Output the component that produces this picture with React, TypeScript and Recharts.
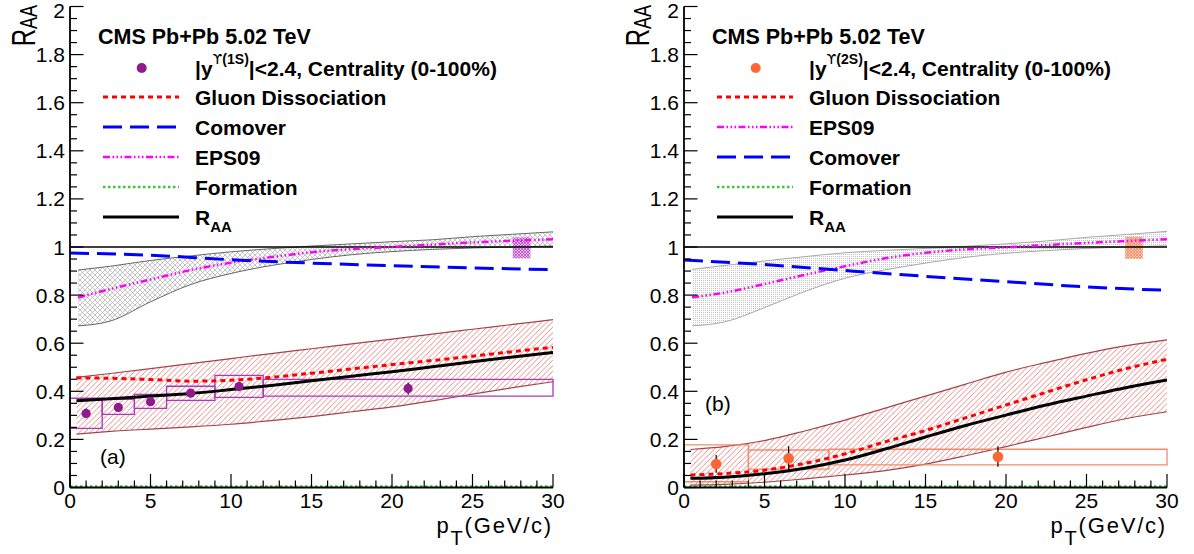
import React from 'react';
import {
  ComposedChart,
  Line,
  Area,
  Scatter,
  ErrorBar,
  XAxis,
  YAxis,
  ReferenceArea,
  ReferenceLine,
  Legend,
} from 'recharts';

const FONT = '"Liberation Sans", Arial, Helvetica, sans-serif';

// axis ticks (ROOT style: minor + major)
const xTicks = [0, 1, 2, 3, 4, 5, 6, 7, 8, 9, 10, 11, 12, 13, 14, 15, 16, 17, 18, 19, 20, 21, 22, 23, 24, 25, 26, 27, 28, 29, 30];
const yTicks = [
  0, 0.05, 0.1, 0.15, 0.2, 0.25, 0.3, 0.35, 0.4, 0.45, 0.5, 0.55, 0.6, 0.65, 0.7, 0.75, 0.8, 0.85, 0.9, 0.95, 1,
  1.05, 1.1, 1.15, 1.2, 1.25, 1.3, 1.35, 1.4, 1.45, 1.5, 1.55, 1.6, 1.65, 1.7, 1.75, 1.8, 1.85, 1.9, 1.95, 2,
];

// common pT grids for the model curves
const ptGrid = [0.5, 2.5, 5, 7.5, 10, 12.5, 15, 17.5, 20, 22.5, 25, 27.5, 30];
const ptGridModel = [0.4, 2.5, 5, 7.5, 10, 12.5, 15, 17.5, 20, 22.5, 25, 27.5, 30];
const ptComover = [0, 5, 10, 15, 20, 25, 30];
const ptFormation = [0, 30];

// ---- Upsilon(1S) panel ----
const eps09Low1S = [0.672, 0.692, 0.772, 0.844, 0.89, 0.923, 0.948, 0.968, 0.981, 0.99, 0.996, 1.0, 1.004];
const eps09High1S = [0.904, 0.92, 0.944, 0.963, 0.98, 0.993, 1.004, 1.013, 1.022, 1.03, 1.043, 1.053, 1.063];
const eps09Mid1S = [0.79, 0.825, 0.865, 0.904, 0.935, 0.958, 0.978, 0.991, 1.0, 1.01, 1.019, 1.026, 1.032];
const comover1S = [0.975, 0.966, 0.947, 0.933, 0.922, 0.913, 0.906];
const bandLow1S = [0.222, 0.233, 0.243, 0.252, 0.263, 0.278, 0.295, 0.315, 0.335, 0.36, 0.388, 0.415, 0.44];
const bandHigh1S = [0.458, 0.474, 0.494, 0.515, 0.536, 0.557, 0.577, 0.597, 0.617, 0.638, 0.658, 0.678, 0.698];
const gluon1S = [0.456, 0.454, 0.449, 0.442, 0.446, 0.458, 0.475, 0.493, 0.511, 0.528, 0.546, 0.565, 0.583];
const raa1S = [0.361, 0.369, 0.38, 0.391, 0.407, 0.424, 0.444, 0.463, 0.481, 0.502, 0.523, 0.543, 0.561];
const formation1S = [0.004, 0.004];
const pt1S = [1, 3, 5, 7.5, 10.5, 21];
const val1S = [0.308, 0.333, 0.357, 0.392, 0.42, 0.412];
const err1S = [0.02, 0.018, 0.016, 0.016, 0.02, 0.025];
const boxLo1S = [0, 2, 4, 6, 9, 12];
const boxHi1S = [2, 4, 6, 9, 12, 30];
const sysLo1S = [0.246, 0.304, 0.329, 0.3625, 0.375, 0.38];
const sysHi1S = [0.371, 0.367, 0.3875, 0.421, 0.466, 0.45];
const global1S = { x: [27.5, 28.6], y: [0.953, 1.04] };

// ---- Upsilon(2S) panel ----
const eps09Low2S = [0.672, 0.688, 0.748, 0.815, 0.87, 0.905, 0.933, 0.957, 0.974, 0.985, 0.994, 1.0, 1.005];
const eps09High2S = [0.907, 0.923, 0.942, 0.96, 0.976, 0.986, 0.994, 1.003, 1.013, 1.025, 1.04, 1.052, 1.065];
const eps09Mid2S = [0.791, 0.81, 0.846, 0.884, 0.92, 0.953, 0.976, 0.99, 0.999, 1.008, 1.017, 1.025, 1.032];
const comover2S = [0.946, 0.927, 0.902, 0.878, 0.856, 0.834, 0.82];
const bandLow2S = [0.01, 0.013, 0.022, 0.036, 0.052, 0.07, 0.097, 0.132, 0.17, 0.21, 0.25, 0.287, 0.315];
const bandHigh2S = [0.158, 0.17, 0.195, 0.235, 0.28, 0.33, 0.38, 0.43, 0.48, 0.52, 0.558, 0.59, 0.614];
const gluon2S = [0.052, 0.058, 0.072, 0.1, 0.14, 0.19, 0.237, 0.29, 0.343, 0.396, 0.448, 0.495, 0.533];
const raa2S = [0.038, 0.043, 0.057, 0.08, 0.114, 0.16, 0.21, 0.258, 0.301, 0.343, 0.38, 0.416, 0.447];
const formation2S = [0.004, 0.004];
const pt2S = [2, 6.5, 19.5];
const val2S = [0.098, 0.121, 0.128];
const err2S = [0.037, 0.05, 0.042];
const boxLo2S = [0, 4, 9];
const boxHi2S = [4, 9, 30];
const sysLo2S = [0.024, 0.076, 0.094];
const sysHi2S = [0.177, 0.156, 0.159];
const global2S = { x: [27.4, 28.5], y: [0.951, 1.042] };

const legendOrder1S = ['gluon', 'comover', 'eps09', 'formation', 'raa'];
const legendOrder2S = ['gluon', 'eps09', 'comover', 'formation', 'raa'];
const legendNames: Record<string, string> = {
  gluon: 'Gluon Dissociation',
  comover: 'Comover',
  eps09: 'EPS09',
  formation: 'Formation',
  raa: 'R',
};

const styles: Record<string, { stroke: string; dash?: string; width: number }> = {
  gluon: { stroke: '#ff0000', dash: '5 4', width: 3 },
  comover: { stroke: '#0000ff', dash: '19 8', width: 3 },
  eps09: { stroke: '#ff00ff', dash: '7 2.5 1.5 2.5 1.5 2.5 1.5 2.5', width: 2.5 },
  formation: { stroke: '#33cc33', dash: '2.5 2.5', width: 2.5 },
  raa: { stroke: '#000000', width: 3 },
};

const toPts = (xs: number[], ys: number[]) => xs.map((x, i) => ({ x, y: ys[i] }));
const toBand = (xs: number[], lo: number[], hi: number[]) => xs.map((x, i) => ({ x, range: [lo[i], hi[i]] }));

const MAJOR = 13.5;
const MINOR = 7;
const isMajorX = (v: number) => v % 5 === 0;
const isMajorY = (v: number) => Math.abs(v * 5 - Math.round(v * 5)) < 1e-6;
const fmtY = (v: number) => (Number.isInteger(v) ? String(v) : v.toFixed(1));

function BottomTick({ x, y, payload }: any) {
  const major = isMajorX(payload.value);
  return (
    <g>
      <line x1={x} x2={x} y1={y} y2={y - (major ? MAJOR : MINOR)} stroke="#000" strokeWidth={1.2} />
      {major && (
        <text x={x} y={y + 20.5} textAnchor="middle" fontSize={21} fontFamily={FONT} fill="#000">
          {payload.value}
        </text>
      )}
    </g>
  );
}

function TopTick({ x, y, payload }: any) {
  const major = isMajorX(payload.value);
  return <line x1={x} x2={x} y1={y} y2={y + (major ? MAJOR + 0.5 : MINOR)} stroke="#000" strokeWidth={1.2} />;
}

function LeftTick({ x, y, payload }: any) {
  const major = isMajorY(payload.value);
  return (
    <g>
      <line x1={x} x2={x + (major ? MAJOR : MINOR)} y1={y} y2={y} stroke="#000" strokeWidth={1.2} />
      {major && (
        <text x={x - 5} y={Math.max(y + 7.5, 18)} textAnchor="end" fontSize={21} fontFamily={FONT} fill="#000">
          {fmtY(payload.value)}
        </text>
      )}
    </g>
  );
}

function RightTick({ x, y, payload }: any) {
  const major = isMajorY(payload.value);
  return <line x1={x} x2={x - (major ? MAJOR : MINOR)} y1={y} y2={y} stroke="#000" strokeWidth={1.2} />;
}

function YTitle({ pl }: { pl: number }) {
  return (
    <text
      transform={`translate(${pl - 35},5) rotate(-90) scale(1,1.35)`}
      textAnchor="end"
      fontSize={24}
      fontFamily={FONT}
      fill="#000"
    >
      R<tspan fontSize={18} dy={1.5}>AA</tspan>
    </text>
  );
}

function XTitle({ pr }: { pr: number }) {
  return (
    <text x={pr} y={533} textAnchor="end" fontSize={22} letterSpacing={1.8} fontFamily={FONT} fill="#000">
      p<tspan fontSize={20} dy={12}>T</tspan>
      <tspan dy={-12}>(GeV/c)</tspan>
    </text>
  );
}

const rowY = [68, 97, 127, 157, 187, 217];

function LegendLine({ x1, x2, y, k }: { x1: number; x2: number; y: number; k: string }) {
  const s = styles[k];
  return <line x1={x1} x2={x2} y1={y} y2={y} stroke={s.stroke} strokeWidth={s.width} strokeDasharray={s.dash} />;
}

function PanelLegend({ p }: { p: PanelDef }) {
  const pl = p.pl;
  const tx = pl + 125;
  return (
    <svg width={597} height={554} style={{ position: 'absolute', left: 0, top: 0, overflow: 'visible' }}>
      <g fontFamily={FONT} fill="#000">
        <text x={pl + 28} y={44.3} fontSize={21.5} fontWeight="bold">
          CMS Pb+Pb 5.02 TeV
        </text>
        <circle cx={pl + 71.7} cy={rowY[0]} r={5} fill={p.color} />
        <text x={tx} y={rowY[0] + 7.5} fontSize={21} fontWeight="bold">
          |y
          <tspan fontSize={14} dy={-12} fontWeight="normal" fontFamily="DejaVu Sans">
            ϒ
          </tspan>
          <tspan fontSize={14}>{p.state}</tspan>
          <tspan fontSize={21} dy={12}>
            |&lt;2.4, Centrality (0-100%)
          </tspan>
        </text>
        {p.order.map((k, i) => (
          <g key={k}>
            <LegendLine x1={pl + 33} x2={pl + 109} y={rowY[i + 1]} k={k} />
            <text x={tx} y={rowY[i + 1] + 7.5} fontSize={21} fontWeight="bold">
              {legendNames[k]}
              {k === 'raa' && (
                <tspan fontSize={15} dy={7}>
                  AA
                </tspan>
              )}
            </text>
          </g>
        ))}
        <text x={p.tagX} y={p.tagY} fontSize={21}>
          {p.tag}
        </text>
      </g>
    </svg>
  );
}

interface PanelDef {
  left: number;
  pl: number;
  pr: number;
  color: string;
  radius: number;
  sysColor: string;
  state: string;
  tag: string;
  tagX: number;
  tagY: number;
  order: string[];
  grayFill: string;
  grayStroke: string;
  globalFill: string;
  eps09Band: { x: number; range: number[] }[];
  eps09: { x: number; y: number }[];
  comover: { x: number; y: number }[];
  band: { x: number; range: number[] }[];
  gluon: { x: number; y: number }[];
  raa: { x: number; y: number }[];
  formation: { x: number; y: number }[];
  points: { x: number; y: number; err: number }[];
  boxes: { x1: number; x2: number; y1: number; y2: number }[];
  global: { x: number[]; y: number[] };
}

const panels: PanelDef[] = [
  {
    left: 0,
    pl: 70,
    pr: 553,
    color: '#8e1a8e',
    radius: 4.6,
    sysColor: '#a93ab9',
    state: '(1S)',
    tag: '(a)',
    tagX: 100,
    tagY: 464,
    order: legendOrder1S,
    grayFill: 'url(#crossGray)',
    grayStroke: '#666666',
    globalFill: 'url(#crossPurple)',
    eps09Band: toBand(ptGrid, eps09Low1S, eps09High1S),
    eps09: toPts(ptGrid, eps09Mid1S),
    comover: toPts(ptComover, comover1S),
    band: toBand(ptGridModel, bandLow1S, bandHigh1S),
    gluon: toPts(ptGridModel, gluon1S),
    raa: toPts(ptGridModel, raa1S),
    formation: toPts(ptFormation, formation1S),
    points: pt1S.map((x, i) => ({ x, y: val1S[i], err: err1S[i] })),
    boxes: boxLo1S.map((x1, i) => ({ x1, x2: boxHi1S[i], y1: sysLo1S[i], y2: sysHi1S[i] })),
    global: global1S,
  },
  {
    left: 597,
    pl: 87,
    pr: 570,
    color: '#ff6633',
    radius: 5.3,
    sysColor: '#f7896a',
    state: '(2S)',
    tag: '(b)',
    tagX: 108,
    tagY: 411,
    order: legendOrder2S,
    grayFill: 'url(#dotGray)',
    grayStroke: '#a8a8a8',
    globalFill: 'url(#crossOrange)',
    eps09Band: toBand(ptGrid, eps09Low2S, eps09High2S),
    eps09: toPts(ptGrid, eps09Mid2S),
    comover: toPts(ptComover, comover2S),
    band: toBand(ptGridModel, bandLow2S, bandHigh2S),
    gluon: toPts(ptGridModel, gluon2S),
    raa: toPts(ptGridModel, raa2S),
    formation: toPts(ptFormation, formation2S),
    points: pt2S.map((x, i) => ({ x, y: val2S[i], err: err2S[i] })),
    boxes: boxLo2S.map((x1, i) => ({ x1, x2: boxHi2S[i], y1: sysLo2S[i], y2: sysHi2S[i] })),
    global: global2S,
  },
];

const frame = { stroke: '#000', strokeWidth: 1.8 };

function Panel({ p }: { p: PanelDef }) {
  const W = 597;
  const H = 554;
  const s = styles;
  return (
    <div style={{ position: 'absolute', left: p.left, top: 0, width: W, height: H }}>
      <ComposedChart width={W} height={H} margin={{ top: 6.5, right: W - p.pr, bottom: 0, left: 0 }}>
        <XAxis
          dataKey="x"
          type="number"
          domain={[0, 30]}
          allowDataOverflow
          ticks={xTicks}
          interval={0}
          tickSize={0}
          tickMargin={0}
          tickLine={false}
          tick={(t: any) => <BottomTick {...t} />}
          axisLine={frame}
          height={66.5}
          label={<XTitle pr={p.pr} />}
        />
        <XAxis
          xAxisId="top"
          orientation="top"
          type="number"
          domain={[0, 30]}
          allowDataOverflow
          ticks={xTicks}
          interval={0}
          tickSize={0}
          tickMargin={0}
          tickLine={false}
          tick={(t: any) => <TopTick {...t} />}
          axisLine={frame}
          height={0}
        />
        <YAxis
          type="number"
          domain={[0, 2]}
          allowDataOverflow
          ticks={yTicks}
          interval={0}
          tickSize={0}
          tickMargin={0}
          tickLine={false}
          tick={(t: any) => <LeftTick {...t} />}
          axisLine={frame}
          width={p.pl}
          label={<YTitle pl={p.pl} />}
        />
        <YAxis
          yAxisId="right"
          orientation="right"
          type="number"
          domain={[0, 2]}
          allowDataOverflow
          ticks={yTicks}
          interval={0}
          tickSize={0}
          tickMargin={0}
          tickLine={false}
          tick={(t: any) => <RightTick {...t} />}
          axisLine={frame}
          width={0}
        />

        <Area
          data={p.eps09Band}
          dataKey="range"
          type="monotone"
          fill={p.grayFill}
          fillOpacity={1}
          stroke={p.grayStroke}
          strokeWidth={1}
          isAnimationActive={false}
        />
        <Area
          data={p.band}
          dataKey="range"
          type="monotone"
          fill="url(#hatchRed)"
          fillOpacity={1}
          stroke="#a0464a"
          strokeWidth={1.2}
          isAnimationActive={false}
        />
        <ReferenceLine y={1} stroke="#000" strokeWidth={1.6} />
        {p.boxes.map((b, i) => (
          <ReferenceArea
            key={i}
            x1={b.x1}
            x2={b.x2}
            y1={b.y1}
            y2={b.y2}
            fill="none"
            fillOpacity={0}
            stroke={p.sysColor}
            strokeWidth={1.3}
          />
        ))}
        <ReferenceArea
          x1={p.global.x[0]}
          x2={p.global.x[1]}
          y1={p.global.y[0]}
          y2={p.global.y[1]}
          fill={p.globalFill}
          fillOpacity={1}
          stroke="none"
        />
        <Line
          data={p.eps09}
          dataKey="y"
          type="monotone"
          stroke={s.eps09.stroke}
          strokeWidth={s.eps09.width}
          strokeDasharray={s.eps09.dash}
          dot={false}
          isAnimationActive={false}
        />
        <Line
          data={p.comover}
          dataKey="y"
          type="monotone"
          stroke={s.comover.stroke}
          strokeWidth={s.comover.width}
          strokeDasharray={s.comover.dash}
          dot={false}
          isAnimationActive={false}
        />
        <Line
          data={p.gluon}
          dataKey="y"
          type="monotone"
          stroke={s.gluon.stroke}
          strokeWidth={s.gluon.width}
          strokeDasharray={s.gluon.dash}
          dot={false}
          isAnimationActive={false}
        />
        <Line
          data={p.raa}
          dataKey="y"
          type="monotone"
          stroke={s.raa.stroke}
          strokeWidth={s.raa.width}
          dot={false}
          isAnimationActive={false}
        />
        <Line
          data={p.formation}
          dataKey="y"
          type="linear"
          stroke={s.formation.stroke}
          strokeWidth={s.formation.width}
          strokeDasharray={s.formation.dash}
          dot={false}
          isAnimationActive={false}
        />
        <Scatter
          data={p.points}
          dataKey="y"
          fill={p.color}
          isAnimationActive={false}
          shape={(sp: any) => <circle cx={sp.cx} cy={sp.cy} r={p.radius} fill={p.color} />}
        >
          <ErrorBar dataKey="err" direction="y" width={0} stroke="#000" strokeWidth={1.2} />
        </Scatter>
        <Legend
          layout="horizontal"
          align="center"
          verticalAlign="middle"
          wrapperStyle={{ left: 0, top: 0, width: W, height: H, pointerEvents: 'none' }}
          content={() => <PanelLegend p={p} />}
        />
      </ComposedChart>
    </div>
  );
}

export default function App() {
  return (
    <div
      style={{
        position: 'absolute',
        left: 0,
        top: 0,
        width: 1194,
        height: 554,
        background: '#fff',
        overflow: 'hidden',
      }}
    >
      <svg width={0} height={0} style={{ position: 'absolute' }}>
        <defs>
          <pattern id="hatchRed" patternUnits="userSpaceOnUse" width={5.5} height={5.5}>
            <path d="M-1,1 l2,-2 M0,5.5 l5.5,-5.5 M4.5,6.5 l2,-2" stroke="#e25555" strokeWidth={0.7} />
          </pattern>
          <pattern id="crossGray" patternUnits="userSpaceOnUse" width={5} height={5}>
            <path d="M-1,1 l2,-2 M0,5 l5,-5 M4,6 l2,-2 M-1,4 l2,2 M0,0 l5,5 M4,-1 l2,2" stroke="#a0a0a0" strokeWidth={0.6} />
          </pattern>
          <pattern id="dotGray" patternUnits="userSpaceOnUse" width={2} height={2}>
            <rect x={0} y={0} width={1} height={1} fill="#c4c4c4" />
          </pattern>
          <pattern id="crossPurple" patternUnits="userSpaceOnUse" width={3} height={3}>
            <rect width={3} height={3} fill="#e3b0e6" />
            <path d="M0,0 l3,3 M3,0 l-3,3" stroke="#b44fc0" strokeWidth={0.7} />
          </pattern>
          <pattern id="crossOrange" patternUnits="userSpaceOnUse" width={3} height={3}>
            <rect width={3} height={3} fill="#ffc9b0" />
            <path d="M0,0 l3,3 M3,0 l-3,3" stroke="#f47a55" strokeWidth={0.7} />
          </pattern>
        </defs>
      </svg>
      {panels.map((p) => (
        <Panel key={p.tag} p={p} />
      ))}
    </div>
  );
}
